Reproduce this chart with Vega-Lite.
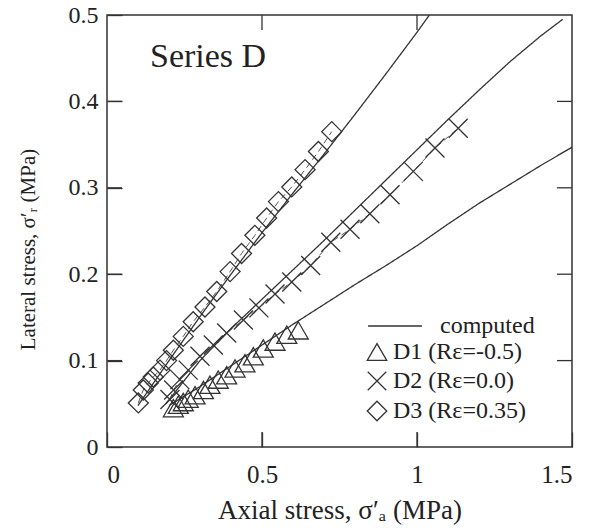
{
  "$schema": "https://vega.github.io/schema/vega-lite/v6.json",
  "autosize": "none",
  "width": 465,
  "height": 432,
  "padding": {"left": 107, "top": 15, "right": 18, "bottom": 83},
  "background": "white",
  "title": {"text": "Series D", "anchor": "start", "frame": "group", "dx": 43, "offset": 0, "dy": 98, "baseline": "alphabetic", "font": "Liberation Serif", "fontSize": 34, "fontWeight": "normal", "color": "#222"},
  "config": {
    "view": {"stroke": "#333", "strokeWidth": 1.5},
    "axis": {"labelFont": "Liberation Serif", "labelFontSize": 25, "labelColor": "#222", "titleFont": "Liberation Serif", "titleFontSize": 25, "titleFontWeight": "normal", "titleColor": "#222"},
    "legend": {"labelFont": "Liberation Serif", "labelFontSize": 24, "labelColor": "#222", "padding": 0}
  },
  "datasets": {
    "xticks": [{"v": 0.5}, {"v": 1}],
    "yticks": [{"v": 0.1}, {"v": 0.2}, {"v": 0.3}, {"v": 0.4}],
    "points": [
      {"series": "D1 (Rε=-0.5)", "x": 0.214, "y": 0.045},
      {"series": "D1 (Rε=-0.5)", "x": 0.23, "y": 0.049},
      {"series": "D1 (Rε=-0.5)", "x": 0.246, "y": 0.052},
      {"series": "D1 (Rε=-0.5)", "x": 0.262, "y": 0.056},
      {"series": "D1 (Rε=-0.5)", "x": 0.284, "y": 0.06},
      {"series": "D1 (Rε=-0.5)", "x": 0.311, "y": 0.066},
      {"series": "D1 (Rε=-0.5)", "x": 0.332, "y": 0.072},
      {"series": "D1 (Rε=-0.5)", "x": 0.359, "y": 0.078},
      {"series": "D1 (Rε=-0.5)", "x": 0.386, "y": 0.083},
      {"series": "D1 (Rε=-0.5)", "x": 0.413, "y": 0.091},
      {"series": "D1 (Rε=-0.5)", "x": 0.445, "y": 0.097},
      {"series": "D1 (Rε=-0.5)", "x": 0.472, "y": 0.105},
      {"series": "D1 (Rε=-0.5)", "x": 0.504, "y": 0.114},
      {"series": "D1 (Rε=-0.5)", "x": 0.542, "y": 0.122},
      {"series": "D1 (Rε=-0.5)", "x": 0.58, "y": 0.13},
      {"series": "D1 (Rε=-0.5)", "x": 0.617, "y": 0.135},
      {"series": "D2 (Rε=0.0)", "x": 0.203, "y": 0.055},
      {"series": "D2 (Rε=0.0)", "x": 0.215, "y": 0.066},
      {"series": "D2 (Rε=0.0)", "x": 0.235, "y": 0.078},
      {"series": "D2 (Rε=0.0)", "x": 0.262, "y": 0.089},
      {"series": "D2 (Rε=0.0)", "x": 0.3, "y": 0.105},
      {"series": "D2 (Rε=0.0)", "x": 0.343, "y": 0.118},
      {"series": "D2 (Rε=0.0)", "x": 0.386, "y": 0.132},
      {"series": "D2 (Rε=0.0)", "x": 0.44, "y": 0.147},
      {"series": "D2 (Rε=0.0)", "x": 0.49, "y": 0.161},
      {"series": "D2 (Rε=0.0)", "x": 0.542, "y": 0.177},
      {"series": "D2 (Rε=0.0)", "x": 0.596, "y": 0.191},
      {"series": "D2 (Rε=0.0)", "x": 0.657, "y": 0.21},
      {"series": "D2 (Rε=0.0)", "x": 0.722, "y": 0.237},
      {"series": "D2 (Rε=0.0)", "x": 0.784, "y": 0.252},
      {"series": "D2 (Rε=0.0)", "x": 0.848, "y": 0.27},
      {"series": "D2 (Rε=0.0)", "x": 0.913, "y": 0.292},
      {"series": "D2 (Rε=0.0)", "x": 0.988, "y": 0.319},
      {"series": "D2 (Rε=0.0)", "x": 1.058, "y": 0.346},
      {"series": "D2 (Rε=0.0)", "x": 1.133, "y": 0.369},
      {"series": "D3 (Rε=0.35)", "x": 0.101, "y": 0.051},
      {"series": "D3 (Rε=0.35)", "x": 0.117, "y": 0.066},
      {"series": "D3 (Rε=0.35)", "x": 0.133, "y": 0.074},
      {"series": "D3 (Rε=0.35)", "x": 0.149, "y": 0.081},
      {"series": "D3 (Rε=0.35)", "x": 0.171, "y": 0.089},
      {"series": "D3 (Rε=0.35)", "x": 0.192, "y": 0.1},
      {"series": "D3 (Rε=0.35)", "x": 0.214, "y": 0.112},
      {"series": "D3 (Rε=0.35)", "x": 0.246, "y": 0.128},
      {"series": "D3 (Rε=0.35)", "x": 0.278, "y": 0.145},
      {"series": "D3 (Rε=0.35)", "x": 0.316, "y": 0.162},
      {"series": "D3 (Rε=0.35)", "x": 0.354, "y": 0.18},
      {"series": "D3 (Rε=0.35)", "x": 0.397, "y": 0.203},
      {"series": "D3 (Rε=0.35)", "x": 0.434, "y": 0.224},
      {"series": "D3 (Rε=0.35)", "x": 0.477, "y": 0.245},
      {"series": "D3 (Rε=0.35)", "x": 0.515, "y": 0.265},
      {"series": "D3 (Rε=0.35)", "x": 0.553, "y": 0.284},
      {"series": "D3 (Rε=0.35)", "x": 0.596, "y": 0.301},
      {"series": "D3 (Rε=0.35)", "x": 0.639, "y": 0.321},
      {"series": "D3 (Rε=0.35)", "x": 0.682, "y": 0.342},
      {"series": "D3 (Rε=0.35)", "x": 0.725, "y": 0.365}
    ],
    "computed": [
      {"line": "D1", "kind": "computed", "x": 0.2, "y": 0.048},
      {"line": "D1", "kind": "computed", "x": 0.3, "y": 0.07},
      {"line": "D1", "kind": "computed", "x": 0.4, "y": 0.094},
      {"line": "D1", "kind": "computed", "x": 0.5, "y": 0.118},
      {"line": "D1", "kind": "computed", "x": 0.6, "y": 0.142},
      {"line": "D1", "kind": "computed", "x": 0.7, "y": 0.165},
      {"line": "D1", "kind": "computed", "x": 0.8, "y": 0.188},
      {"line": "D1", "kind": "computed", "x": 0.9, "y": 0.21},
      {"line": "D1", "kind": "computed", "x": 1.0, "y": 0.233},
      {"line": "D1", "kind": "computed", "x": 1.1, "y": 0.258},
      {"line": "D1", "kind": "computed", "x": 1.2, "y": 0.282},
      {"line": "D1", "kind": "computed", "x": 1.3, "y": 0.304},
      {"line": "D1", "kind": "computed", "x": 1.4, "y": 0.326},
      {"line": "D1", "kind": "computed", "x": 1.5, "y": 0.347},
      {"line": "D2", "kind": "computed", "x": 0.19, "y": 0.05},
      {"line": "D2", "kind": "computed", "x": 0.3, "y": 0.1},
      {"line": "D2", "kind": "computed", "x": 0.4, "y": 0.137},
      {"line": "D2", "kind": "computed", "x": 0.5, "y": 0.171},
      {"line": "D2", "kind": "computed", "x": 0.6, "y": 0.205},
      {"line": "D2", "kind": "computed", "x": 0.7, "y": 0.239},
      {"line": "D2", "kind": "computed", "x": 0.8, "y": 0.274},
      {"line": "D2", "kind": "computed", "x": 0.9, "y": 0.309},
      {"line": "D2", "kind": "computed", "x": 1.0, "y": 0.344},
      {"line": "D2", "kind": "computed", "x": 1.1, "y": 0.379},
      {"line": "D2", "kind": "computed", "x": 1.2, "y": 0.413},
      {"line": "D2", "kind": "computed", "x": 1.3, "y": 0.446},
      {"line": "D2", "kind": "computed", "x": 1.4, "y": 0.476},
      {"line": "D2", "kind": "computed", "x": 1.47, "y": 0.495},
      {"line": "D3", "kind": "computed", "x": 0.1, "y": 0.048},
      {"line": "D3", "kind": "computed", "x": 0.2, "y": 0.1},
      {"line": "D3", "kind": "computed", "x": 0.3, "y": 0.151},
      {"line": "D3", "kind": "computed", "x": 0.4, "y": 0.2},
      {"line": "D3", "kind": "computed", "x": 0.5, "y": 0.248},
      {"line": "D3", "kind": "computed", "x": 0.6, "y": 0.294},
      {"line": "D3", "kind": "computed", "x": 0.7, "y": 0.339},
      {"line": "D3", "kind": "computed", "x": 0.8, "y": 0.385},
      {"line": "D3", "kind": "computed", "x": 0.9, "y": 0.432},
      {"line": "D3", "kind": "computed", "x": 1.0, "y": 0.48},
      {"line": "D3", "kind": "computed", "x": 1.04, "y": 0.5}
    ]
  },
  "layer": [
    {
      "data": {"name": "computed"},
      "mark": {"type": "line", "color": "#333", "strokeWidth": 1.3, "clip": true},
      "encoding": {
        "x": {"field": "x", "type": "quantitative", "scale": {"domain": [0, 1.5], "nice": false}, "axis": {"values": [0, 0.5, 1, 1.5], "format": "~g", "labelFlush": true, "labelPadding": 15, "domain": false, "grid": false, "ticks": true, "tickSize": 15, "tickColor": "#333", "tickWidth": 1.3, "offset": -15, "title": "Axial stress, σ′ₐ (MPa)", "titleFontSize": 27, "titlePadding": 10}},
        "y": {"field": "y", "type": "quantitative", "scale": {"domain": [0, 0.5], "nice": false}, "axis": {"values": [0, 0.1, 0.2, 0.3, 0.4, 0.5], "format": "~g", "labelPadding": 9, "labelFontSize": 24, "domain": false, "grid": false, "ticks": true, "tickSize": 15, "tickColor": "#333", "tickWidth": 1.3, "offset": -15, "title": "Lateral stress, σ′ᵣ (MPa)", "titleFontSize": 21, "titlePadding": 30, "titleY": 234}},
        "detail": {"field": "line"},
        "strokeDash": {"field": "kind", "type": "nominal", "scale": {"domain": ["computed"], "range": [[1, 0]]}, "legend": {"title": null, "orient": "none", "legendX": 260, "legendY": 283, "symbolSize": 2900, "symbolStrokeWidth": 1.3, "symbolStrokeColor": "#333", "labelOffset": 17}}
      }
    },
    {
      "data": {"name": "points"},
      "transform": [{"filter": "datum.series !== 'D1 (Rε=-0.5)'"}],
      "mark": {"type": "line", "color": "#555", "strokeWidth": 1, "strokeDash": [6, 4]},
      "encoding": {
        "x": {"field": "x", "type": "quantitative"},
        "y": {"field": "y", "type": "quantitative"},
        "detail": {"field": "series"}
      }
    },
    {
      "data": {"name": "points"},
      "mark": {"type": "point", "filled": false, "color": "#333", "strokeWidth": 1.3, "size": 400, "opacity": 1},
      "encoding": {
        "x": {"field": "x", "type": "quantitative"},
        "y": {"field": "y", "type": "quantitative"},
        "shape": {"field": "series", "type": "nominal", "scale": {"domain": ["D1 (Rε=-0.5)", "D2 (Rε=0.0)", "D3 (Rε=0.35)"], "range": ["triangle-up", "M-0.95,-0.95L0.95,0.95M-0.95,0.95L0.95,-0.95", "diamond"]}, "legend": {"title": null, "orient": "none", "legendX": 258, "legendY": 325, "symbolSize": 380, "symbolStrokeWidth": 1.3, "symbolStrokeColor": "#333", "symbolFillColor": "transparent", "labelOffset": 4, "rowPadding": 5}}
      }
    },
    {
      "data": {"name": "xticks"},
      "mark": {"type": "point", "filled": false, "color": "#333", "strokeWidth": 1.3, "size": 900, "opacity": 1, "shape": "M0,0L0,-1"},
      "encoding": {
        "x": {"field": "v", "type": "quantitative"},
        "y": {"datum": 0, "type": "quantitative"}
      }
    },
    {
      "data": {"name": "xticks"},
      "mark": {"type": "point", "filled": false, "color": "#333", "strokeWidth": 1.3, "size": 900, "opacity": 1, "shape": "M0,0L0,1"},
      "encoding": {
        "x": {"field": "v", "type": "quantitative"},
        "y": {"datum": 0.5, "type": "quantitative"}
      }
    },
    {
      "data": {"name": "yticks"},
      "mark": {"type": "point", "filled": false, "color": "#333", "strokeWidth": 1.3, "size": 900, "opacity": 1, "shape": "M0,0L1,0"},
      "encoding": {
        "x": {"datum": 0, "type": "quantitative"},
        "y": {"field": "v", "type": "quantitative"}
      }
    },
    {
      "data": {"name": "yticks"},
      "mark": {"type": "point", "filled": false, "color": "#333", "strokeWidth": 1.3, "size": 900, "opacity": 1, "shape": "M0,0L-1,0"},
      "encoding": {
        "x": {"datum": 1.5, "type": "quantitative"},
        "y": {"field": "v", "type": "quantitative"}
      }
    }
  ]
}
